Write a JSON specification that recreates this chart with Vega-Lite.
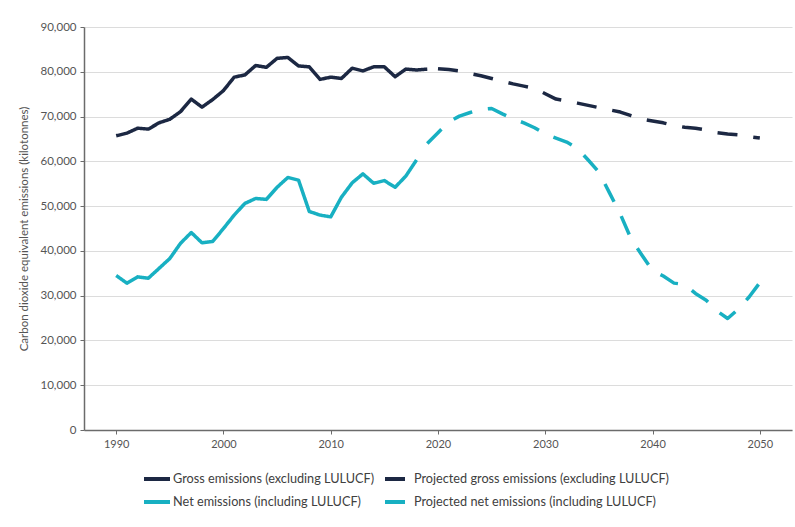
{
  "$schema": "https://vega.github.io/schema/vega-lite/v6.json",
  "width": 708,
  "height": 403,
  "autosize": {"type": "none"},
  "padding": {"left": 84, "top": 27, "right": 3, "bottom": 97},
  "background": "white",
  "config": {"font": "Lato", "view": {"stroke": null}},
  "data": {"values": [
    {"year": 1990, "series": "Gross emissions (excluding LULUCF)", "value": 65700},
    {"year": 1991, "series": "Gross emissions (excluding LULUCF)", "value": 66300},
    {"year": 1992, "series": "Gross emissions (excluding LULUCF)", "value": 67400},
    {"year": 1993, "series": "Gross emissions (excluding LULUCF)", "value": 67200},
    {"year": 1994, "series": "Gross emissions (excluding LULUCF)", "value": 68600},
    {"year": 1995, "series": "Gross emissions (excluding LULUCF)", "value": 69400},
    {"year": 1996, "series": "Gross emissions (excluding LULUCF)", "value": 71100},
    {"year": 1997, "series": "Gross emissions (excluding LULUCF)", "value": 73900},
    {"year": 1998, "series": "Gross emissions (excluding LULUCF)", "value": 72100},
    {"year": 1999, "series": "Gross emissions (excluding LULUCF)", "value": 73800},
    {"year": 2000, "series": "Gross emissions (excluding LULUCF)", "value": 75800},
    {"year": 2001, "series": "Gross emissions (excluding LULUCF)", "value": 78800},
    {"year": 2002, "series": "Gross emissions (excluding LULUCF)", "value": 79300},
    {"year": 2003, "series": "Gross emissions (excluding LULUCF)", "value": 81400},
    {"year": 2004, "series": "Gross emissions (excluding LULUCF)", "value": 81000},
    {"year": 2005, "series": "Gross emissions (excluding LULUCF)", "value": 83000},
    {"year": 2006, "series": "Gross emissions (excluding LULUCF)", "value": 83200},
    {"year": 2007, "series": "Gross emissions (excluding LULUCF)", "value": 81300},
    {"year": 2008, "series": "Gross emissions (excluding LULUCF)", "value": 81100},
    {"year": 2009, "series": "Gross emissions (excluding LULUCF)", "value": 78300},
    {"year": 2010, "series": "Gross emissions (excluding LULUCF)", "value": 78800},
    {"year": 2011, "series": "Gross emissions (excluding LULUCF)", "value": 78500},
    {"year": 2012, "series": "Gross emissions (excluding LULUCF)", "value": 80800},
    {"year": 2013, "series": "Gross emissions (excluding LULUCF)", "value": 80200},
    {"year": 2014, "series": "Gross emissions (excluding LULUCF)", "value": 81100},
    {"year": 2015, "series": "Gross emissions (excluding LULUCF)", "value": 81100},
    {"year": 2016, "series": "Gross emissions (excluding LULUCF)", "value": 78900},
    {"year": 2017, "series": "Gross emissions (excluding LULUCF)", "value": 80600},
    {"year": 2018, "series": "Gross emissions (excluding LULUCF)", "value": 80400},
    {"year": 2019, "series": "Gross emissions (excluding LULUCF)", "value": 80600},
    {"year": 2020, "series": "Projected gross emissions (excluding LULUCF)", "value": 80700},
    {"year": 2021, "series": "Projected gross emissions (excluding LULUCF)", "value": 80500},
    {"year": 2022, "series": "Projected gross emissions (excluding LULUCF)", "value": 80200},
    {"year": 2023, "series": "Projected gross emissions (excluding LULUCF)", "value": 79600},
    {"year": 2024, "series": "Projected gross emissions (excluding LULUCF)", "value": 79100},
    {"year": 2025, "series": "Projected gross emissions (excluding LULUCF)", "value": 78500},
    {"year": 2026, "series": "Projected gross emissions (excluding LULUCF)", "value": 77900},
    {"year": 2027, "series": "Projected gross emissions (excluding LULUCF)", "value": 77300},
    {"year": 2028, "series": "Projected gross emissions (excluding LULUCF)", "value": 76800},
    {"year": 2029, "series": "Projected gross emissions (excluding LULUCF)", "value": 76300},
    {"year": 2030, "series": "Projected gross emissions (excluding LULUCF)", "value": 75100},
    {"year": 2031, "series": "Projected gross emissions (excluding LULUCF)", "value": 73900},
    {"year": 2032, "series": "Projected gross emissions (excluding LULUCF)", "value": 73500},
    {"year": 2033, "series": "Projected gross emissions (excluding LULUCF)", "value": 73000},
    {"year": 2034, "series": "Projected gross emissions (excluding LULUCF)", "value": 72500},
    {"year": 2035, "series": "Projected gross emissions (excluding LULUCF)", "value": 72000},
    {"year": 2036, "series": "Projected gross emissions (excluding LULUCF)", "value": 71500},
    {"year": 2037, "series": "Projected gross emissions (excluding LULUCF)", "value": 71000},
    {"year": 2038, "series": "Projected gross emissions (excluding LULUCF)", "value": 70200},
    {"year": 2039, "series": "Projected gross emissions (excluding LULUCF)", "value": 69400},
    {"year": 2040, "series": "Projected gross emissions (excluding LULUCF)", "value": 69000},
    {"year": 2041, "series": "Projected gross emissions (excluding LULUCF)", "value": 68600},
    {"year": 2042, "series": "Projected gross emissions (excluding LULUCF)", "value": 68000},
    {"year": 2043, "series": "Projected gross emissions (excluding LULUCF)", "value": 67600},
    {"year": 2044, "series": "Projected gross emissions (excluding LULUCF)", "value": 67400},
    {"year": 2045, "series": "Projected gross emissions (excluding LULUCF)", "value": 67000},
    {"year": 2046, "series": "Projected gross emissions (excluding LULUCF)", "value": 66400},
    {"year": 2047, "series": "Projected gross emissions (excluding LULUCF)", "value": 66100},
    {"year": 2048, "series": "Projected gross emissions (excluding LULUCF)", "value": 65900},
    {"year": 2049, "series": "Projected gross emissions (excluding LULUCF)", "value": 65500},
    {"year": 2050, "series": "Projected gross emissions (excluding LULUCF)", "value": 65200},
    {"year": 1990, "series": "Net emissions (including LULUCF)", "value": 34500},
    {"year": 1991, "series": "Net emissions (including LULUCF)", "value": 32800},
    {"year": 1992, "series": "Net emissions (including LULUCF)", "value": 34200},
    {"year": 1993, "series": "Net emissions (including LULUCF)", "value": 33900},
    {"year": 1994, "series": "Net emissions (including LULUCF)", "value": 36100},
    {"year": 1995, "series": "Net emissions (including LULUCF)", "value": 38300},
    {"year": 1996, "series": "Net emissions (including LULUCF)", "value": 41700},
    {"year": 1997, "series": "Net emissions (including LULUCF)", "value": 44100},
    {"year": 1998, "series": "Net emissions (including LULUCF)", "value": 41800},
    {"year": 1999, "series": "Net emissions (including LULUCF)", "value": 42100},
    {"year": 2000, "series": "Net emissions (including LULUCF)", "value": 45000},
    {"year": 2001, "series": "Net emissions (including LULUCF)", "value": 48000},
    {"year": 2002, "series": "Net emissions (including LULUCF)", "value": 50600},
    {"year": 2003, "series": "Net emissions (including LULUCF)", "value": 51700},
    {"year": 2004, "series": "Net emissions (including LULUCF)", "value": 51500},
    {"year": 2005, "series": "Net emissions (including LULUCF)", "value": 54200},
    {"year": 2006, "series": "Net emissions (including LULUCF)", "value": 56400},
    {"year": 2007, "series": "Net emissions (including LULUCF)", "value": 55800},
    {"year": 2008, "series": "Net emissions (including LULUCF)", "value": 48800},
    {"year": 2009, "series": "Net emissions (including LULUCF)", "value": 48000},
    {"year": 2010, "series": "Net emissions (including LULUCF)", "value": 47600},
    {"year": 2011, "series": "Net emissions (including LULUCF)", "value": 52000},
    {"year": 2012, "series": "Net emissions (including LULUCF)", "value": 55200},
    {"year": 2013, "series": "Net emissions (including LULUCF)", "value": 57200},
    {"year": 2014, "series": "Net emissions (including LULUCF)", "value": 55100},
    {"year": 2015, "series": "Net emissions (including LULUCF)", "value": 55700},
    {"year": 2016, "series": "Net emissions (including LULUCF)", "value": 54200},
    {"year": 2017, "series": "Net emissions (including LULUCF)", "value": 56700},
    {"year": 2018, "series": "Net emissions (including LULUCF)", "value": 60300},
    {"year": 2019, "series": "Projected net emissions (including LULUCF)", "value": 64000},
    {"year": 2020, "series": "Projected net emissions (including LULUCF)", "value": 66400},
    {"year": 2021, "series": "Projected net emissions (including LULUCF)", "value": 68800},
    {"year": 2022, "series": "Projected net emissions (including LULUCF)", "value": 70100},
    {"year": 2023, "series": "Projected net emissions (including LULUCF)", "value": 70900},
    {"year": 2024, "series": "Projected net emissions (including LULUCF)", "value": 71600},
    {"year": 2025, "series": "Projected net emissions (including LULUCF)", "value": 71800},
    {"year": 2026, "series": "Projected net emissions (including LULUCF)", "value": 70600},
    {"year": 2027, "series": "Projected net emissions (including LULUCF)", "value": 69500},
    {"year": 2028, "series": "Projected net emissions (including LULUCF)", "value": 68600},
    {"year": 2029, "series": "Projected net emissions (including LULUCF)", "value": 67500},
    {"year": 2030, "series": "Projected net emissions (including LULUCF)", "value": 66100},
    {"year": 2031, "series": "Projected net emissions (including LULUCF)", "value": 65200},
    {"year": 2032, "series": "Projected net emissions (including LULUCF)", "value": 64300},
    {"year": 2033, "series": "Projected net emissions (including LULUCF)", "value": 62900},
    {"year": 2034, "series": "Projected net emissions (including LULUCF)", "value": 60300},
    {"year": 2035, "series": "Projected net emissions (including LULUCF)", "value": 57600},
    {"year": 2036, "series": "Projected net emissions (including LULUCF)", "value": 52900},
    {"year": 2037, "series": "Projected net emissions (including LULUCF)", "value": 48200},
    {"year": 2038, "series": "Projected net emissions (including LULUCF)", "value": 42700},
    {"year": 2039, "series": "Projected net emissions (including LULUCF)", "value": 39100},
    {"year": 2040, "series": "Projected net emissions (including LULUCF)", "value": 35600},
    {"year": 2041, "series": "Projected net emissions (including LULUCF)", "value": 34400},
    {"year": 2042, "series": "Projected net emissions (including LULUCF)", "value": 32800},
    {"year": 2043, "series": "Projected net emissions (including LULUCF)", "value": 32500},
    {"year": 2044, "series": "Projected net emissions (including LULUCF)", "value": 30500},
    {"year": 2045, "series": "Projected net emissions (including LULUCF)", "value": 29000},
    {"year": 2046, "series": "Projected net emissions (including LULUCF)", "value": 26600},
    {"year": 2047, "series": "Projected net emissions (including LULUCF)", "value": 24900},
    {"year": 2048, "series": "Projected net emissions (including LULUCF)", "value": 27000},
    {"year": 2049, "series": "Projected net emissions (including LULUCF)", "value": 29700},
    {"year": 2050, "series": "Projected net emissions (including LULUCF)", "value": 32900}
  ]},
  "mark": {"type": "line", "strokeWidth": 3.5, "strokeJoin": "round", "strokeCap": "butt"},
  "encoding": {
    "x": {
      "field": "year", "type": "quantitative",
      "scale": {"domain": [1987, 2053], "nice": false, "zero": false},
      "axis": {
        "title": null, "values": [1990, 2000, 2010, 2020, 2030, 2040, 2050], "format": "d",
        "grid": false, "domainColor": "#6b6b6b", "domainWidth": 1.5, "tickColor": "#6b6b6b", "tickSize": 4,
        "labelFontSize": 11, "labelColor": "#555555", "labelPadding": 4, "labelFont": "Lato"
      }
    },
    "y": {
      "field": "value", "type": "quantitative",
      "scale": {"domain": [0, 90000], "nice": false},
      "axis": {
        "title": "Carbon dioxide equivalent emissions (kilotonnes)",
        "titleFontSize": 11.5, "titleFontWeight": "normal", "titleColor": "#555555", "titleFont": "Lato", "titlePadding": 11,
        "values": [0, 10000, 20000, 30000, 40000, 50000, 60000, 70000, 80000, 90000], "format": ",d",
        "grid": true, "gridColor": "#dcdcdc", "gridWidth": 1,
        "domainColor": "#6b6b6b", "domainWidth": 1.5, "tickColor": "#6b6b6b", "tickSize": 4,
        "labelFontSize": 11.5, "labelColor": "#555555", "labelPadding": 4, "labelFont": "Lato"
      }
    },
    "color": {
      "field": "series", "type": "nominal",
      "scale": {
        "domain": ["Gross emissions (excluding LULUCF)", "Net emissions (including LULUCF)", "Projected gross emissions (excluding LULUCF)", "Projected net emissions (including LULUCF)"],
        "range": ["#1c2843", "#18b0c2", "#1c2843", "#18b0c2"]
      },
      "legend": {
        "title": null, "orient": "none", "legendX": 58, "legendY": 437, "columns": 2,
        "symbolType": "stroke", "symbolSize": 676, "symbolStrokeWidth": 4,
        "labelFontSize": 12.7, "labelColor": "#404040", "labelFont": "Lato", "labelOffset": 1, "labelLimit": 0,
        "columnPadding": 2, "rowPadding": -3, "padding": 0,
        "encode": {"symbols": {"update": {"strokeDash": {"signal": "indexof(datum.value, 'Projected') === 0 ? [9, 5] : [1, 0]"}}}}
      }
    },
    "strokeDash": {
      "field": "series", "type": "nominal",
      "scale": {
        "domain": ["Gross emissions (excluding LULUCF)", "Net emissions (including LULUCF)", "Projected gross emissions (excluding LULUCF)", "Projected net emissions (including LULUCF)"],
        "range": [[1, 0], [1, 0], [20, 16], [20, 16]]
      },
      "legend": null
    }
  }
}
